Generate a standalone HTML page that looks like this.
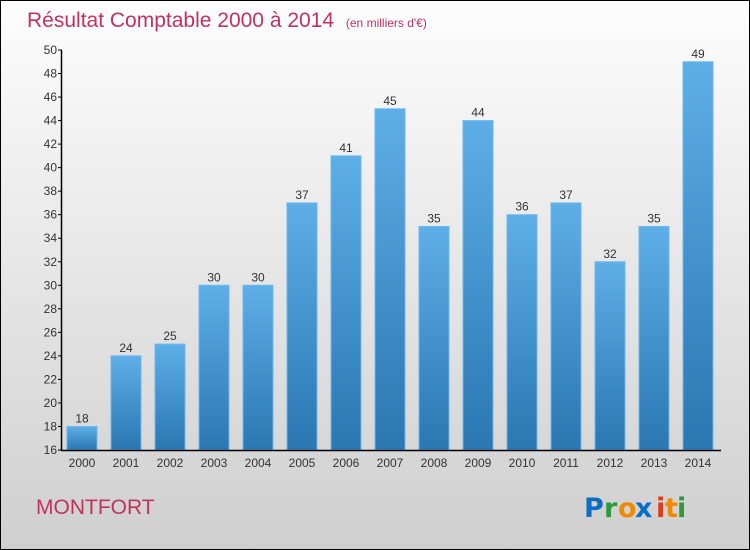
<!DOCTYPE html>
<html><head><meta charset="utf-8"><style>
body{margin:0}
#c{position:relative;width:748px;height:548px;border:1px solid #000;background:linear-gradient(#fdfdfd,#cfcfcf);font-family:"Liberation Sans",sans-serif;overflow:hidden}
</style></head><body>
<div id="c">
<svg width="748" height="548" id="s">
<defs><linearGradient id="bg" x1="0" y1="0" x2="0" y2="1"><stop offset="0" stop-color="#5eaee8"/><stop offset="1" stop-color="#2a77b2"/></linearGradient></defs>
<text x="26" y="26" font-size="21" fill="#c0325f">Résultat Comptable 2000 à 2014 <tspan font-size="12" dx="6">(en milliers d'€)</tspan></text>
<text x="35" y="513" font-size="21" fill="#c0325f">MONTFORT</text>
<g font-size="27" font-weight="bold" font-family="'DejaVu Sans',sans-serif"><text x="583" y="516" fill="#0a6fc4">P</text><text x="603" y="516" fill="#2a9a3a">r</text><text x="617" y="516" fill="#f08a00">o</text><text x="634" y="516" fill="#0a6fc4">x</text><text x="655" y="516" fill="#e03a1a">i</text><text x="664" y="516" fill="#f08a00">t</text><text x="676" y="516" fill="#2a9a3a">i</text></g>
<g id="plot"></g>
</svg></div>
<script>
const categories=["2000","2001","2002","2003","2004","2005","2006","2007","2008","2009","2010","2011","2012","2013","2014"];
const values=[18,24,25,30,30,37,41,45,35,44,36,37,32,35,49];
const yTicks=[16,18,20,22,24,26,28,30,32,34,36,38,40,42,44,46,48,50];
const ns="http://www.w3.org/2000/svg";
const g=document.getElementById('plot');
const y=v=>449-(v-16)*400/34;
const x=i=>81+i*44;
function el(t,a){const e=document.createElementNS(ns,t);for(const k in a)e.setAttribute(k,a[k]);g.appendChild(e);return e;}
categories.forEach((c,i)=>{
 const r=el('rect',{x:x(i)-15,y:y(values[i]),width:30,height:449-y(values[i]),fill:'url(#bg)',stroke:'#6bb8ee','stroke-width':1});
 
 
 const t=el('text',{x:x(i),y:y(values[i])-4,'font-size':12,fill:'#333','text-anchor':'middle'});t.textContent=values[i];
 
 
 const l=el('text',{x:x(i),y:466,'font-size':12,fill:'#333','text-anchor':'middle'});l.textContent=c;
 
 
});
yTicks.forEach(v=>{
 el('line',{x1:57,x2:61,y1:y(v),y2:y(v),stroke:'#000'});
 const t=el('text',{x:56,y:y(v)+4,'font-size':12,fill:'#333','text-anchor':'end'});t.textContent=v;
 
 
});
const ya=el('line',{x1:60.5,x2:60.5,y1:y(50),y2:450,stroke:'#000','stroke-width':1.5});


const xa=el('line',{x1:60,x2:720,y1:449.5,y2:449.5,stroke:'#000','stroke-width':1.5});


</script>
</body></html>
